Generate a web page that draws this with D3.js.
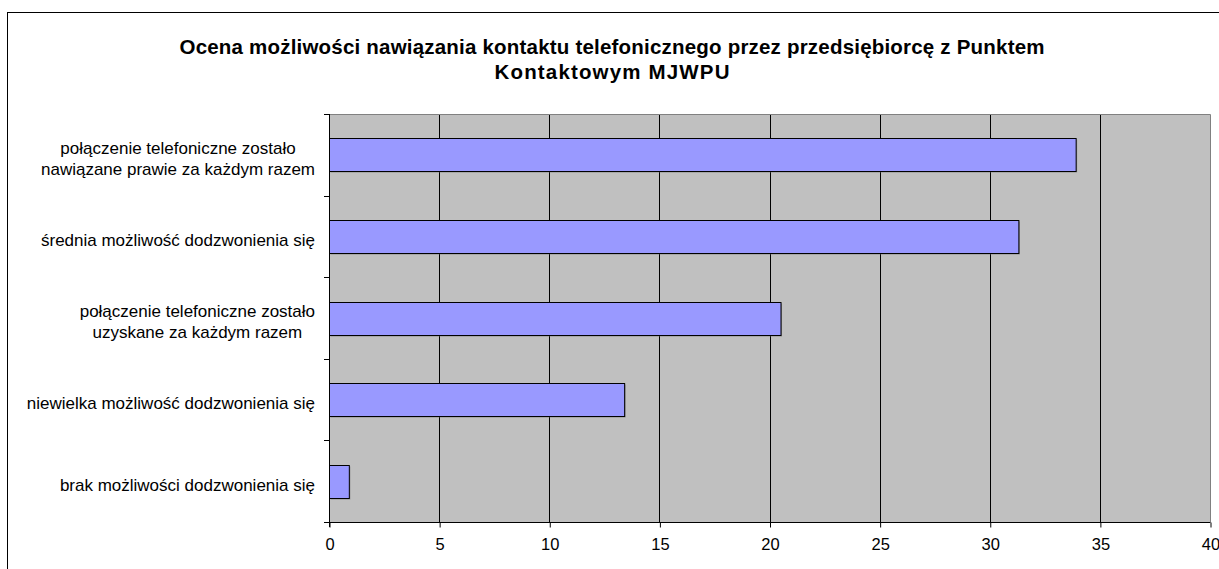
<!DOCTYPE html>
<html>
<head>
<meta charset="utf-8">
<script src="https://cdn.jsdelivr.net/npm/d3@7"></script>
<style>
  html, body { margin: 0; padding: 0; background: #ffffff; }
  svg { display: block; }
  text { font-family: "Liberation Sans", Arial, sans-serif; fill: #000; }
</style>
</head>
<body>
<svg id="chart" width="1219" height="569"></svg>
<script>
// Survey answers (top to bottom) and their shares
const categories = [
  ["połączenie telefoniczne zostało", "nawiązane prawie za każdym razem"],
  ["średnia możliwość dodzwonienia się"],
  ["połączenie telefoniczne zostało", "uzyskane za każdym razem"],
  ["niewielka możliwość dodzwonienia się"],
  ["brak możliwości dodzwonienia się"]
];
const values = [33.9, 31.3, 20.5, 13.4, 0.9];
const xTicks = [0, 5, 10, 15, 20, 25, 30, 35, 40];
const titleLines = [
  "Ocena możliwości nawiązania kontaktu telefonicznego przez przedsiębiorcę z Punktem",
  "Kontaktowym MJWPU"
];
const titleWidths = [865, 235];

const svg = d3.select("#chart");
const plot = { left: 329, right: 1210, top: 114, bottom: 522 };

// Chart area frame
svg.append("rect")
  .attr("x", 7.5).attr("y", 12.5)
  .attr("width", 1400).attr("height", 700)
  .attr("fill", "#fff").attr("stroke", "#000").attr("stroke-width", 1);

// Title (two centred lines)
svg.append("g").selectAll("text")
  .data(titleLines).join("text")
  .attr("x", 612)
  .attr("y", (d, i) => 53.5 + i * 25)
  .attr("text-anchor", "middle")
  .attr("textLength", (d, i) => titleWidths[i])
  .attr("lengthAdjust", "spacing")
  .style("font-size", "20.5px")
  .style("font-weight", "bold")
  .text(d => d);

const x = d3.scaleLinear().domain([0, 40]).range([plot.left, plot.right]);
const idx = d3.range(categories.length);
const band = d3.scaleBand().domain(idx).range([plot.top, plot.bottom]).paddingInner(0.6).paddingOuter(0.3);

// Plot background
svg.append("rect")
  .attr("x", plot.left).attr("y", plot.top)
  .attr("width", plot.right - plot.left).attr("height", plot.bottom - plot.top)
  .attr("fill", "#c0c0c0");

// Vertical gridlines
svg.append("g").selectAll("line")
  .data(xTicks.filter(t => t > 0 && t < 40)).join("line")
  .attr("x1", d => Math.round(x(d)) + 0.5).attr("x2", d => Math.round(x(d)) + 0.5)
  .attr("y1", plot.top).attr("y2", plot.bottom)
  .attr("stroke", "#000").attr("stroke-width", 1);

// Plot border (top and right in grey)
svg.append("path")
  .attr("d", `M${plot.left},${plot.top + 0.5}H${plot.right + 0.5}V${plot.bottom}`)
  .attr("fill", "none").attr("stroke", "#808080").attr("stroke-width", 1);

// Bars with a faint drop shadow
const bars = svg.append("g");
bars.selectAll("rect.shadow")
  .data(values).join("rect")
  .attr("class", "shadow")
  .attr("x", plot.left + 1.5)
  .attr("y", (d, i) => Math.round(band(i)) + 1.5)
  .attr("width", d => x(d) - plot.left)
  .attr("height", Math.round(band.bandwidth()))
  .attr("fill", "#6e6e6e").attr("opacity", 0.6);
bars.selectAll("rect.bar")
  .data(values).join("rect")
  .attr("class", "bar")
  .attr("x", plot.left + 0.5)
  .attr("y", (d, i) => Math.round(band(i)) + 0.5)
  .attr("width", d => x(d) - plot.left)
  .attr("height", Math.round(band.bandwidth()))
  .attr("fill", "#9999ff").attr("stroke", "#000").attr("stroke-width", 1);

// X axis
const xAxis = d3.axisBottom(x).tickValues(xTicks).tickSize(5).tickSizeOuter(0).tickPadding(11);
const gx = svg.append("g").attr("transform", `translate(0.5,${plot.bottom + 0.5})`).call(xAxis);
gx.select(".domain").attr("stroke", "#000").attr("d", `M${plot.left - 5.5},0H${plot.right}`);
gx.selectAll(".tick line").attr("stroke", "#000");
gx.selectAll(".tick text")
  .style("font-family", "'Liberation Sans', Arial, sans-serif")
  .style("font-size", "16.5px").attr("fill", "#000");

// Y axis: line plus ticks at category boundaries
const yAxisG = svg.append("g");
yAxisG.append("line")
  .attr("x1", plot.left + 0.5).attr("x2", plot.left + 0.5)
  .attr("y1", plot.top).attr("y2", plot.bottom + 5)
  .attr("stroke", "#000");
const step = (plot.bottom - plot.top) / categories.length;
yAxisG.selectAll("line.tk")
  .data(d3.range(categories.length + 1)).join("line")
  .attr("class", "tk")
  .attr("x1", plot.left - 5).attr("x2", plot.left)
  .attr("y1", d => Math.round(plot.top + d * step) + 0.5)
  .attr("y2", d => Math.round(plot.top + d * step) + 0.5)
  .attr("stroke", "#000");

// Category labels: block right-aligned, lines centred within the block
const labelRight = 315;
const lineH = 21;
categories.forEach((lines, i) => {
  const cy = band(i) + band.bandwidth() / 2 + 3.5;
  const g = svg.append("g");
  const texts = g.selectAll("text").data(lines).join("text")
    .style("font-size", "17px")
    .attr("text-anchor", "middle")
    .attr("y", (d, j) => cy + (j - (lines.length - 1) / 2) * lineH)
    .attr("dy", "0.35em")
    .text(d => d);
  let maxW = 0;
  texts.each(function () { maxW = Math.max(maxW, this.getComputedTextLength()); });
  texts.attr("x", labelRight - maxW / 2);
});
</script>
</body>
</html>
